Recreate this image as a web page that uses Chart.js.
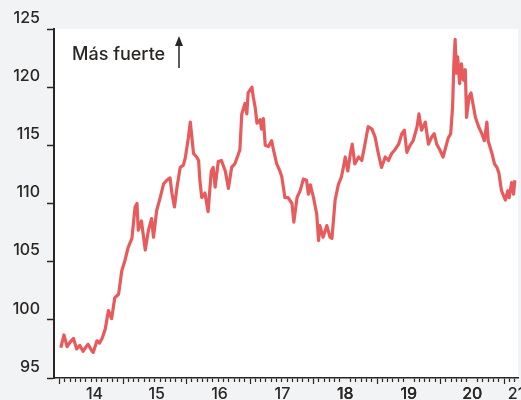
<!DOCTYPE html>
<html>
<head>
<meta charset="utf-8">
<script src="https://cdn.jsdelivr.net/npm/chart.js@4"></script>
<style>
  html, body { margin: 0; padding: 0; background: #f2f3f5; overflow: hidden; }
</style>
</head>
<body>
<canvas id="chart" width="540" height="400"></canvas>
<script>
const dates = [
  2014.02, 2014.07, 2014.12, 2014.17, 2014.22, 2014.27, 2014.32, 2014.37, 2014.42, 2014.45,
  2014.5, 2014.53, 2014.59, 2014.63, 2014.67, 2014.72, 2014.77, 2014.82, 2014.87, 2014.93,
  2014.98, 2015.03, 2015.08, 2015.14, 2015.19, 2015.22, 2015.24, 2015.29, 2015.35, 2015.4,
  2015.45, 2015.48, 2015.53, 2015.58, 2015.64, 2015.69, 2015.74, 2015.77, 2015.81, 2015.85,
  2015.9, 2015.95, 2015.98, 2016.03, 2016.06, 2016.11, 2016.16, 2016.19, 2016.21, 2016.24,
  2016.29, 2016.34, 2016.39, 2016.42, 2016.45, 2016.5, 2016.55, 2016.61, 2016.66, 2016.71,
  2016.76, 2016.82, 2016.84, 2016.87, 2016.92, 2016.95, 2016.97, 2017.03, 2017.05, 2017.08,
  2017.11, 2017.16, 2017.18, 2017.21, 2017.24, 2017.29, 2017.34, 2017.37, 2017.42, 2017.47,
  2017.5, 2017.55, 2017.6, 2017.66, 2017.69, 2017.74, 2017.79, 2017.84, 2017.89, 2017.92,
  2017.95, 2018.0, 2018.05, 2018.08, 2018.1, 2018.15, 2018.21, 2018.26, 2018.29, 2018.34,
  2018.39, 2018.44, 2018.47, 2018.5, 2018.54, 2018.58, 2018.61, 2018.65, 2018.71, 2018.76,
  2018.81, 2018.86, 2018.92, 2018.97, 2019.02, 2019.07, 2019.13, 2019.18, 2019.23, 2019.28,
  2019.34, 2019.39, 2019.43, 2019.47, 2019.52, 2019.57, 2019.63, 2019.66, 2019.7, 2019.76,
  2019.81, 2019.86, 2019.9, 2019.94, 2019.99, 2020.04, 2020.07, 2020.12, 2020.16, 2020.19,
  2020.21, 2020.23, 2020.25, 2020.27, 2020.3, 2020.33, 2020.36, 2020.39, 2020.41, 2020.45,
  2020.48, 2020.52, 2020.55, 2020.6, 2020.65, 2020.69, 2020.73, 2020.75, 2020.81, 2020.85,
  2020.89, 2020.92, 2020.96, 2021.02, 2021.06, 2021.08, 2021.12, 2021.15, 2021.17,
];

const values = [
  97.6, 98.7, 97.7, 98.1, 98.4, 97.5, 97.8, 97.3, 97.7, 97.9,
  97.4, 97.2, 98.2, 98.0, 98.4, 99.2, 100.8, 100.1, 101.9, 102.2,
  104.2, 105.1, 106.2, 107.0, 109.7, 110.0, 107.7, 108.5, 106.0, 107.7,
  108.7, 107.1, 109.4, 110.4, 111.7, 112.0, 112.2, 110.9, 109.7, 111.4,
  113.1, 113.3, 113.9, 115.7, 117.0, 114.3, 114.0, 113.7, 112.0, 110.5,
  110.9, 109.3, 112.8, 113.1, 111.4, 113.6, 113.7, 112.8, 111.3, 113.1,
  113.4, 114.3, 114.6, 117.7, 118.6, 117.7, 119.5, 120.0, 119.2, 118.3,
  116.9, 117.2, 116.4, 117.3, 115.0, 114.9, 115.4, 114.6, 113.4, 112.8,
  112.3, 110.5, 110.5, 110.0, 108.4, 110.5, 111.1, 112.1, 112.0, 110.8,
  111.6, 110.5, 109.1, 106.8, 108.1, 107.1, 108.1, 107.1, 107.0, 110.3,
  111.6, 112.3, 113.1, 114.0, 112.8, 114.3, 115.1, 113.4, 114.0, 113.7,
  115.1, 116.6, 116.4, 115.7, 114.3, 113.1, 114.0, 113.7, 114.3, 114.6,
  115.1, 116.0, 116.3, 114.4, 115.0, 115.4, 116.6, 117.7, 116.3, 117.0,
  115.1, 115.7, 116.0, 115.1, 114.6, 114.0, 114.6, 115.6, 116.0, 118.3,
  122.0, 124.1, 121.2, 122.6, 120.3, 122.0, 120.6, 121.5, 117.4, 119.2,
  119.5, 118.3, 117.4, 116.6, 116.0, 115.4, 117.0, 115.4, 114.3, 113.4,
  113.1, 112.6, 111.1, 110.3, 111.1, 110.5, 111.8, 110.8, 112.0,
];

const yearLabels = ["14", "15", "16", "17", "18", "19", "20", "21"];
const yearLabelPositions = [2014.55, 2015.53, 2016.52, 2017.51, 2018.5, 2019.5, 2020.5, 2021.19];
const yTicks = [95, 100, 105, 110, 115, 120, 125];

const ink = "#2a2624";
const fontFamily = "Inter, 'Noto Sans', sans-serif";

const points = dates.map((d, i) => ({ x: d, y: values[i] }));

// month ticks from Jan 2014 to Mar 2021, plus the label ticks
function buildMonthTicks() {
  const out = [];
  for (let m = 0; m <= 86; m++) {
    out.push({ value: 2014 + m / 12 });
  }
  yearLabelPositions.forEach((p) => out.push({ value: p }));
  return out.sort((a, b) => a.value - b.value);
}

function labelFor(v) {
  const idx = yearLabelPositions.findIndex((p) => Math.abs(p - v) < 0.001);
  return idx >= 0 ? yearLabels[idx] : "";
}

function isLabelTick(v) {
  return yearLabelPositions.some((p) => Math.abs(p - v) < 0.001);
}

const whiteArea = {
  id: "whiteArea",
  beforeDraw(chart) {
    const { ctx, chartArea } = chart;
    ctx.save();
    ctx.fillStyle = "#ffffff";
    ctx.fillRect(chartArea.left, chartArea.top, chartArea.right - chartArea.left, chartArea.bottom - chartArea.top);
    ctx.restore();
  },
};

const note = {
  id: "note",
  afterDraw(chart) {
    const { ctx, chartArea } = chart;
    ctx.save();
    ctx.fillStyle = ink;
    ctx.font = "500 18px " + fontFamily;
    ctx.textBaseline = "alphabetic";
    ctx.fillText("Más fuerte", chartArea.left + 18, chartArea.top + 31);
    // arrow
    const ax = chartArea.left + 125;
    ctx.strokeStyle = ink;
    ctx.lineWidth = 1.5;
    ctx.beginPath();
    ctx.moveTo(ax, chartArea.top + 39);
    ctx.lineTo(ax, chartArea.top + 10);
    ctx.stroke();
    ctx.beginPath();
    ctx.moveTo(ax, chartArea.top + 7);
    ctx.lineTo(ax - 4, chartArea.top + 17);
    ctx.lineTo(ax + 4, chartArea.top + 17);
    ctx.closePath();
    ctx.fill();
    ctx.restore();
  },
};

new Chart(document.getElementById("chart"), {
  type: "line",
  data: {
    datasets: [
      {
        data: points,
        borderColor: "#e75b5c",
        borderWidth: 3.2,
        borderJoinStyle: "round",
        pointRadius: 0,
        tension: 0,
      },
    ],
  },
  options: {
    responsive: false,
    animation: false,
    devicePixelRatio: 1,
    layout: { padding: { top: 29, right: 22, left: 0, bottom: 0 } },
    plugins: { legend: { display: false }, tooltip: { enabled: false } },
    scales: {
      x: {
        type: "linear",
        min: 2013.913,
        max: 2021.22,
        afterFit: (scale) => { scale.height = 22; },
        afterBuildTicks: (scale) => { scale.ticks = buildMonthTicks(); },
        border: { display: true, color: ink, width: 1.5 },
        grid: {
          drawOnChartArea: false,
          drawTicks: true,
          tickLength: 6,
          tickWidth: 1.2,
          tickColor: (ctx) => (ctx.tick && isLabelTick(ctx.tick.value) ? "rgba(0,0,0,0)" : ink),
          tickBorderDash: (ctx) => {
            const v = ctx.tick ? ctx.tick.value : 0;
            return Math.abs(v - Math.round(v)) < 0.001 ? [] : [3.5, 50];
          },
        },
        ticks: {
          autoSkip: false,
          maxRotation: 0,
          padding: 1,
          color: ink,
          font: { family: fontFamily, size: 16, weight: "500" },
          callback: (v) => labelFor(v),
        },
      },
      y: {
        min: 95,
        max: 125,
        afterFit: (scale) => { scale.width = 54; },
        afterBuildTicks: (scale) => { scale.ticks = yTicks.map((v) => ({ value: v })); },
        border: { display: true, color: ink, width: 2 },
        grid: {
          drawOnChartArea: false,
          drawTicks: true,
          tickLength: 7,
          tickWidth: 1.5,
          tickColor: ink,
        },
        ticks: {
          padding: 7,
          labelOffset: -11,
          color: ink,
          font: { family: fontFamily, size: 16, weight: "500" },
          callback: (v) => String(v),
        },
      },
    },
  },
  plugins: [whiteArea, note],
});
</script>
</body>
</html>
